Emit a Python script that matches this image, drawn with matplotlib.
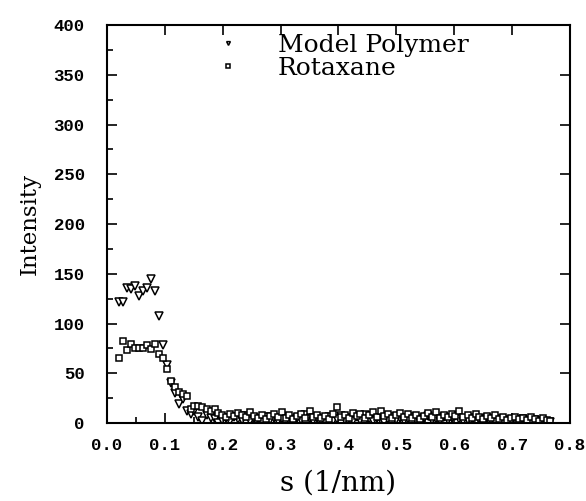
import matplotlib
matplotlib.use("Agg")
import matplotlib.pyplot as plt
from matplotlib.ticker import MultipleLocator

# scattering vector s (1/nm), shared by both series
s = [
    0.021, 0.028, 0.035, 0.041, 0.048, 0.055, 0.062, 0.069, 0.076, 0.083,
    0.090, 0.097, 0.104, 0.110, 0.117, 0.124, 0.131, 0.138, 0.145, 0.151,
    0.158, 0.165, 0.172, 0.179, 0.186, 0.192, 0.199, 0.206, 0.213, 0.220,
    0.227, 0.233, 0.240, 0.247, 0.254, 0.261, 0.268, 0.274, 0.281, 0.288,
    0.295, 0.302, 0.309, 0.315, 0.322, 0.329, 0.336, 0.343, 0.350, 0.356,
    0.363, 0.370, 0.377, 0.384, 0.391, 0.397, 0.404, 0.411, 0.418, 0.425,
    0.432, 0.438, 0.445, 0.452, 0.459, 0.466, 0.473, 0.479, 0.486, 0.493,
    0.500, 0.507, 0.514, 0.520, 0.527, 0.534, 0.541, 0.548, 0.555, 0.561,
    0.568, 0.575, 0.582, 0.589, 0.596, 0.602, 0.609, 0.616, 0.623, 0.630,
    0.637, 0.643, 0.650, 0.657, 0.664, 0.671, 0.678, 0.684, 0.691, 0.698,
    0.705, 0.712, 0.719, 0.725, 0.732, 0.739, 0.746, 0.753, 0.760, 0.766,
]

model_polymer = [
    122, 122, 136, 135, 138, 128, 133, 136, 145, 133,
    108, 78, 58, 40, 30, 19, 24, 12, 9, 12,
    6, 2, 8, 5, 4, 0, 3, 5, 2, 6,
    4, 3, 7, 2, 5, 4, 1, 6, 3, 5,
    2, 4, 6, 3, 1, 5, 3, 8, 4, 2,
    5, 3, 1, 6, 2, 4, 7, 3, 5, 2,
    6, 3, 8, 4, 2, 5, 3, 1, 4, 6,
    3, 5, 2, 4, 6, 3, 1, 5, 7, 3,
    4, 2, 6, 3, 5, 7, 4, 2, 3, 5,
    1, 4, 2, 5, 3, 1, 4, 2, 3, 1,
    3, 1, 4, 2, 0, 3, 1, 2, 0, 1,
]

rotaxane = [
    65, 82, 73, 79, 75, 75, 75, 78, 74, 79,
    69, 65, 54, 42, 36, 31, 29, 27, 14, 17,
    17, 16, 14, 12, 14, 10, 8, 6, 9, 7,
    10, 8, 6, 11, 7, 5, 8, 4, 7, 9,
    6, 11, 5, 8, 4, 7, 9, 5, 12, 6,
    8, 5, 7, 4, 9, 16, 6, 8, 5, 10,
    7, 9, 5, 8, 11, 6, 12, 7, 9, 5,
    8, 10, 6, 9, 5, 8, 4, 7, 10, 6,
    11, 5, 8, 6, 9, 7, 12, 6, 8, 5,
    9, 6, 4, 7, 5, 8, 4, 6, 3, 5,
    6, 4, 5, 3, 6, 4, 2, 5, 3, 2,
]

fig = plt.figure(figsize=(5.86, 5.01), dpi=100)
ax = fig.add_axes([0.1826, 0.1557, 0.79, 0.7943])

ax.plot(s, model_polymer, linestyle="none", marker="v", markersize=6,
        markerfacecolor="white", markeredgecolor="black", markeredgewidth=1.1,
        label="Model Polymer")
ax.plot(s, rotaxane, linestyle="none", marker="s", markersize=5,
        markerfacecolor="white", markeredgecolor="black", markeredgewidth=1.1,
        label="Rotaxane")

ax.set_xlim(0, 0.8)
ax.set_ylim(0, 400)
ax.xaxis.set_major_locator(MultipleLocator(0.1))
ax.xaxis.set_minor_locator(MultipleLocator(0.05))
ax.yaxis.set_major_locator(MultipleLocator(50))
ax.yaxis.set_minor_locator(MultipleLocator(25))

ax.tick_params(which="both", direction="in", top=True, right=True, width=1.2, color="black")
ax.tick_params(which="major", length=7)
ax.tick_params(which="minor", length=4, top=False, right=False)
ax.tick_params(axis="x", which="major", pad=11)
ax.tick_params(axis="y", which="major", pad=16)

for lab in ax.get_xticklabels() + ax.get_yticklabels():
    lab.set_fontfamily("Liberation Mono")
    lab.set_fontweight("bold")
    lab.set_fontsize(12.5)

for sp in ax.spines.values():
    sp.set_linewidth(1.5)

ax.set_xlabel("s (1/nm)", fontfamily="DejaVu Serif", fontsize=20, labelpad=12)
ax.set_ylabel("Intensity", fontfamily="DejaVu Serif", fontsize=16.5, labelpad=9)

ax.legend(loc="upper left", bbox_to_anchor=(0.185, 1.035), frameon=False,
          markerscale=0.45, handlelength=1.0, handletextpad=1.5,
          labelspacing=0.0, prop={"family": "DejaVu Serif", "size": 18})

fig.savefig("out.png", dpi=100)
